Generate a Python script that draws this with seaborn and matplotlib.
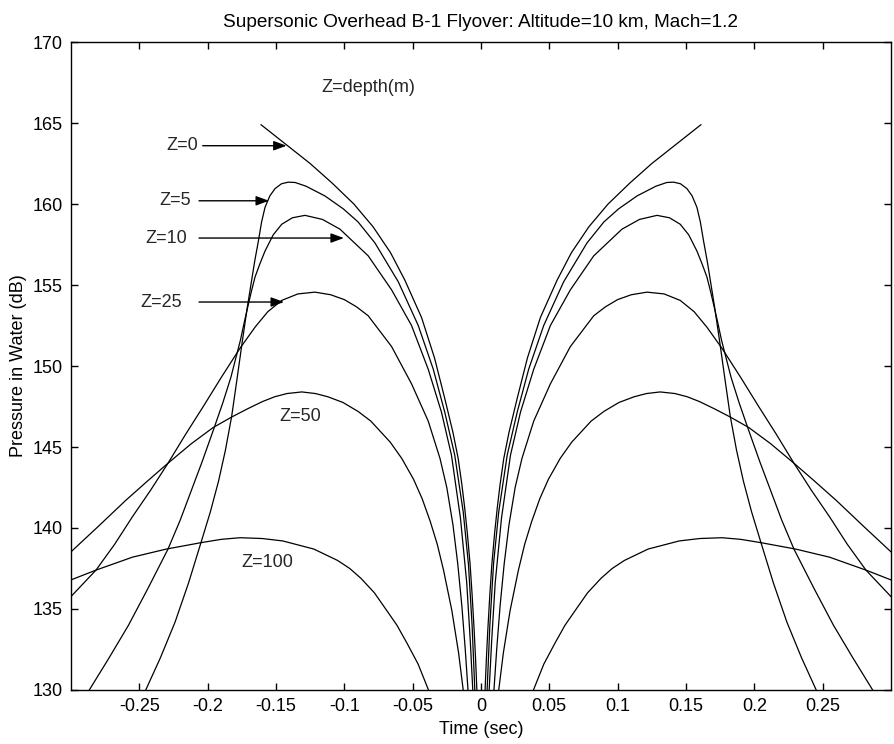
import matplotlib
matplotlib.use("Agg")
import matplotlib.pyplot as plt
import pandas as pd
import seaborn as sns

# Received underwater level versus time from overhead passage, one
# branch per depth (the field is symmetric about t = 0).
depths = [0, 5, 10, 25, 50, 100]

t_z0 = [0.003, 0.004, 0.005, 0.0065, 0.008, 0.010, 0.012, 0.014, 0.0167,
        0.0205, 0.0265, 0.034, 0.0435, 0.0557, 0.0662, 0.079, 0.093, 0.109,
        0.125, 0.140, 0.161]
p_z0 = [130.0, 132.0, 133.7, 135.9, 137.8, 139.7, 141.3, 142.7, 144.3,
        145.9, 148.0, 150.5, 153.0, 155.3, 157.0, 158.6, 160.0, 161.3,
        162.5, 163.5, 164.9]

t_z5 = [0.0045, 0.0065, 0.0092, 0.013, 0.0192, 0.0265, 0.0349, 0.0459, 0.0605,
        0.0776, 0.090, 0.1007, 0.1142, 0.128, 0.136, 0.141, 0.146, 0.1507,
        0.1545, 0.158, 0.1605, 0.1629, 0.1655, 0.1678, 0.1712, 0.1745, 0.1785,
        0.1824, 0.187, 0.192, 0.198, 0.2045, 0.214, 0.2238, 0.2345, 0.2453]
p_z5 = [130.0, 134.0, 137.8, 141.0, 144.5, 147.15, 149.8, 152.5, 155.2,
        157.6, 158.9, 159.7, 160.5, 161.1, 161.33, 161.35, 161.25, 160.95,
        160.5, 159.8, 158.9, 157.7, 156.5, 155.3, 153.5, 151.6, 149.2,
        146.9, 144.8, 142.9, 141.0, 139.2, 136.6, 134.2, 132.0, 130.0]

t_z10 = [0.006, 0.0078, 0.0104, 0.015, 0.0216, 0.0289, 0.0386, 0.0508, 0.0654,
         0.0825, 0.1032, 0.116, 0.1288, 0.138, 0.1458, 0.152, 0.158, 0.1618,
         0.1653, 0.168, 0.1705, 0.1732, 0.176, 0.183, 0.189, 0.196, 0.204,
         0.212, 0.220, 0.229, 0.2435, 0.2579, 0.272, 0.2866]
p_z10 = [130.0, 133.0, 136.6, 140.6, 144.5, 147.15, 149.8, 152.5, 154.7,
         156.8, 158.45, 159.05, 159.3, 159.15, 158.75, 158.1, 157.1, 156.3,
         155.5, 154.6, 153.7, 152.7, 151.6, 149.3, 147.7, 146.0, 144.1,
         142.3, 140.5, 138.7, 136.3, 134.0, 132.0, 130.0]

t_z25 = [0.0095, 0.0115, 0.014, 0.017, 0.0205, 0.025, 0.030, 0.0386, 0.0508,
         0.0654, 0.0825, 0.091, 0.100, 0.110, 0.1215, 0.134, 0.1458, 0.156,
         0.1653, 0.1763, 0.190, 0.2032, 0.216, 0.229, 0.242, 0.255, 0.268,
         0.2817, 0.303]
p_z25 = [130.0, 132.5, 135.2, 137.8, 140.2, 142.5, 144.3, 146.6, 148.9,
         151.2, 153.1, 153.65, 154.1, 154.4, 154.56, 154.45, 154.05, 153.35,
         152.4, 151.1, 149.3, 147.5, 145.8, 144.0, 142.3, 140.7, 139.0,
         137.4, 135.5]

t_z50 = [0.013, 0.0164, 0.0213, 0.0274, 0.032, 0.0371, 0.043, 0.0493, 0.058,
         0.0664, 0.0806, 0.090, 0.101, 0.112, 0.1211, 0.1311, 0.142, 0.151,
         0.160, 0.171, 0.1824, 0.196, 0.212, 0.229, 0.244, 0.260, 0.280,
         0.3029]
p_z50 = [130.0, 132.3, 134.9, 137.4, 139.0, 140.4, 141.8, 143.0, 144.3,
         145.3, 146.6, 147.2, 147.75, 148.1, 148.3, 148.4, 148.3, 148.1,
         147.8, 147.35, 146.85, 146.2, 145.2, 144.0, 142.9, 141.7, 140.1,
         138.3]

t_z100 = [0.0384, 0.046, 0.0542, 0.0615, 0.0689, 0.078, 0.0879, 0.096, 0.105,
          0.1223, 0.145, 0.160, 0.1763, 0.190, 0.2045, 0.2302, 0.255, 0.2817,
          0.3029]
p_z100 = [130.0, 131.6, 132.9, 134.0, 134.9, 136.0, 136.9, 137.5, 138.0,
          138.7, 139.2, 139.35, 139.4, 139.3, 139.1, 138.7, 138.2, 137.4,
          136.7]

times = [t_z0, t_z5, t_z10, t_z25, t_z50, t_z100]
levels = [p_z0, p_z5, p_z10, p_z25, p_z50, p_z100]

x_ticks = [-0.25, -0.2, -0.15, -0.1, -0.05, 0, 0.05, 0.1, 0.15, 0.2, 0.25]
x_tick_labels = ["-0.25", "-0.2", "-0.15", "-0.1", "-0.05", "0",
                 "0.05", "0.1", "0.15", "0.2", "0.25"]
y_ticks = [130, 135, 140, 145, 150, 155, 160, 165, 170]

title_text = "Supersonic Overhead B-1 Flyover: Altitude=10 km, Mach=1.2"

rows = []
for z, t, p in zip(depths, times, levels):
    for side, name in ((-1, "before"), (1, "after")):
        for ti, pi in zip(t, p):
            rows.append({"branch": f"{z}-{name}", "Time": side * ti, "Pressure": pi})
df = pd.DataFrame(rows)

sns.set_theme(style="ticks")
plt.rcParams["font.family"] = ["Liberation Sans", "DejaVu Sans"]

fig = plt.figure(figsize=(8.95, 7.44), dpi=100)
ax = fig.add_axes([0.0793, 0.0726, 0.9162, 0.8709])

sns.lineplot(data=df, x="Time", y="Pressure", units="branch", estimator=None,
             sort=False, color="black", linewidth=0.9, ax=ax, legend=False)

ax.set_xlim(-0.3, 0.3)
ax.set_ylim(130, 170)
ax.set_xticks(x_ticks)
ax.set_xticklabels(x_tick_labels)
ax.set_yticks(y_ticks)
ax.tick_params(direction="in", top=True, right=True, length=5, width=1,
               labelsize=13, colors="black", pad=6)
for s in ax.spines.values():
    s.set_visible(True)
    s.set_color("black")
    s.set_linewidth(1.0)

ax.set_title(title_text, fontsize=13.7, pad=11, color="black")
ax.set_xlabel("Time (sec)", fontsize=13, labelpad=4, color="black")
ax.set_ylabel("Pressure in Water (dB)", fontsize=13, labelpad=4, color="black")

# depth labels with pointer arrows
arrow = dict(arrowstyle="-|>,head_length=0.6,head_width=0.22", color="black",
             lw=1.0, mutation_scale=13, shrinkA=0, shrinkB=0)
ax.text(-0.117, 167.2, "Z=depth(m)", fontsize=13, ha="left", va="center")
for label, tx, ty, x0, x1 in [("Z=0", -0.207, 163.6, -0.2036, -0.1422),
                              ("Z=5", -0.212, 160.2, -0.2063, -0.1551),
                              ("Z=10", -0.2148, 157.9, -0.2063, -0.1003),
                              ("Z=25", -0.2184, 153.95, -0.2063, -0.1441)]:
    ax.text(tx, ty, label, fontsize=13, ha="right", va="center")
    ax.annotate("", xy=(x1, ty), xytext=(x0, ty), arrowprops=arrow)
ax.text(-0.1478, 146.9, "Z=50", fontsize=13, ha="left", va="center")
ax.text(-0.1753, 137.9, "Z=100", fontsize=13, ha="left", va="center")

fig.savefig("out.png", dpi=100, facecolor="white")
